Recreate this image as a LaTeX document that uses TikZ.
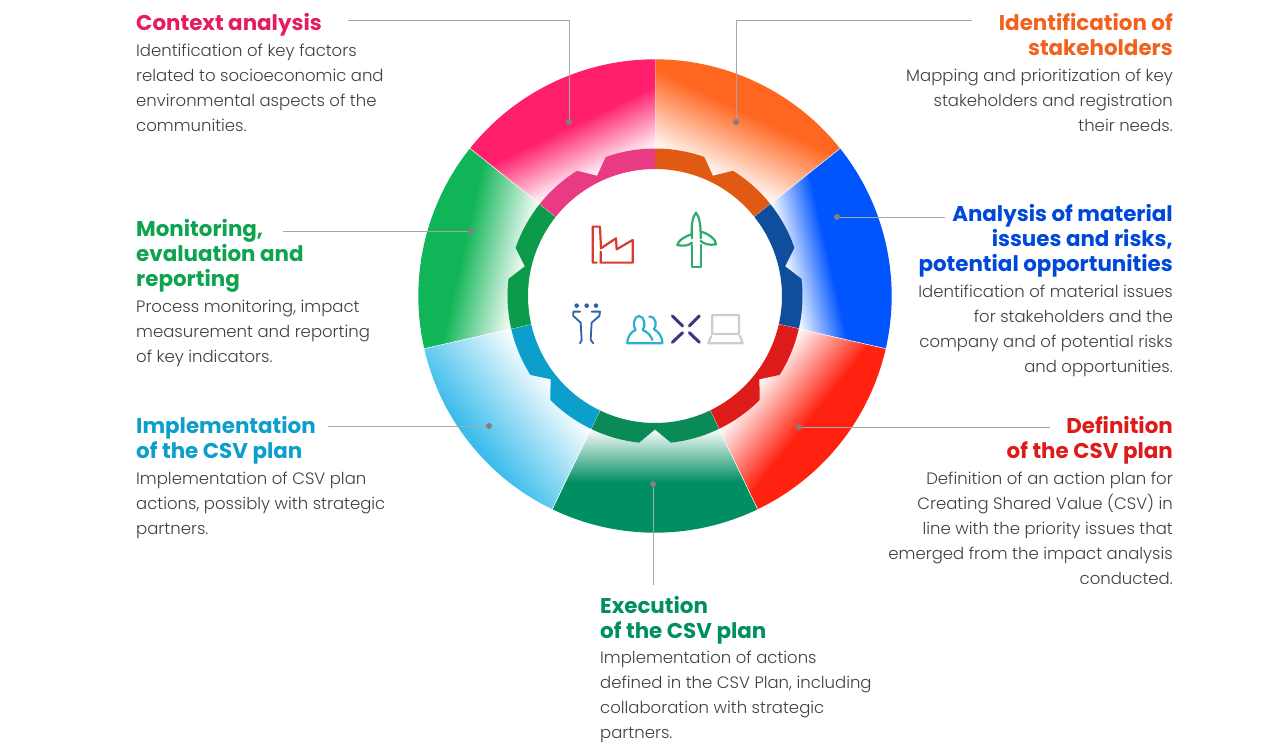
\documentclass[tikz,border=0pt]{standalone}
\usepackage{fontspec}
\usepackage{xcolor}
\newfontfamily\bodyfont[UprightFont=* Light,BoldFont=* Bold]{Poppins}
\definecolor{pinkc}{HTML}{FF1F6C}
\definecolor{orangec}{HTML}{FF6620}
\definecolor{bluec}{HTML}{0055FF}
\definecolor{redc}{HTML}{FF2210}
\definecolor{deepc}{HTML}{008F62}
\definecolor{skyc}{HTML}{3CBDEB}
\definecolor{greenc}{HTML}{10B557}
\definecolor{pinkg}{HTML}{E93B84}
\definecolor{orangeg}{HTML}{E05A14}
\definecolor{blueg}{HTML}{0F4E9C}
\definecolor{redg}{HTML}{DE1B1B}
\definecolor{deepg}{HTML}{0A8A56}
\definecolor{skyg}{HTML}{0D9FCB}
\definecolor{greeng}{HTML}{0C9A4B}
\definecolor{factoryc}{HTML}{D83A30}
\definecolor{turbinec}{HTML}{2EAB6B}
\definecolor{columnc}{HTML}{2F5FA5}
\definecolor{peoplec}{HTML}{2BB0D0}
\definecolor{crossc}{HTML}{43307F}
\begin{document}
\begin{tikzpicture}[x=1pt, y=1pt,
    leader/.style={draw=black!35, line width=0.9pt},
    dotmark/.style={circle, fill=black!50, inner sep=0pt, minimum size=6pt},
    headl/.style={anchor=base west, align=left, inner sep=0pt, font=\bodyfont\bfseries\fontsize{21.4}{25}\selectfont},
    headr/.style={anchor=base east, align=right, inner sep=0pt, font=\bodyfont\bfseries\fontsize{21.4}{25}\selectfont},
    bodyl/.style={anchor=base west, align=left, inner sep=0pt, text=black!75, font=\bodyfont\fontsize{16.5}{25}\selectfont},
    bodyr/.style={anchor=base east, align=right, inner sep=0pt, text=black!75, font=\bodyfont\fontsize{16.5}{25}\selectfont},
    icon/.style={line width=2.2pt, line join=round, line cap=round}]
    \useasboundingbox (0,0) rectangle (1280,752);
    % Ring sectors and gear
    \foreach \mid/\col/\gearcol/\rfull in {64.29/orangec/orangeg/205, 12.86/bluec/blueg/178, -38.57/redc/redg/198, -90/deepc/deepg/186, -141.43/skyc/skyg/232, -192.86/greenc/greeng/198, -244.29/pinkc/pinkg/190} {
        \begin{scope}[transform canvas={shift={(655,456)}, rotate=\mid}]
            \begin{scope}
                \clip (-25.71:125) -- (-25.71:236.7) arc[start angle=-25.71, end angle=25.71, radius=236.7] -- (25.71:125) arc[start angle=25.71, end angle=-25.71, radius=125] -- cycle;
                \shade[left color=white, right color=\col] (132,-240) rectangle (\rfull,240);
                \fill[\col] (\rfull-0.5,-240) rectangle (240,240);
            \end{scope}
            \draw[white, line width=0.5pt] (25.71:127) -- (25.71:236.7);
            % gear piece with one notch
            \fill[\gearcol] (-25.71:127) arc[start angle=-25.71, end angle=25.71, radius=127]
                -- (25.71:147.5) arc[start angle=25.71, end angle=6.2, radius=147.5]
                -- (0:133.5) -- (-6.2:147.5) arc[start angle=-6.2, end angle=-25.71, radius=147.5] -- cycle;
        \end{scope}
    }
    % Icons
    \begin{scope}[shift={(490,622)}, x=0.3333pt, y=-0.3333pt]
        \draw[icon, factoryc] (320,398) -- (308,398) -- (308,290) -- (330,290) -- (333,355) -- (378,325) -- (380,358) -- (428,330) -- (428,398) -- (332,398) -- (332,365);
        \draw[icon, turbinec] (606,345) -- (606,410) -- (632,410) -- (632,345);
        \draw[icon, turbinec] (606,325) .. controls (603,285) and (608,260) .. (618,248) .. controls (628,260) and (633,285) .. (632,325);
        \draw[icon, turbinec] (606,312) .. controls (585,320) and (565,330) .. (562,345) .. controls (585,350) and (598,345) .. (606,338);
        \draw[icon, turbinec] (632,305) .. controls (655,310) and (680,330) .. (678,343) .. controls (658,347) and (642,342) .. (632,333);
        \foreach \dotx in {260,290,318} \fill[columnc] (\dotx,527) circle (2.3pt);
        \draw[icon, line width=1.8pt, columnc] (270,545) -- (250,545) -- (250,558) -- (272,578) -- (275,630) -- (270,640);
        \draw[icon, line width=1.8pt, columnc] (305,545) -- (330,545) -- (328,558) -- (305,578) -- (302,630) -- (310,640);
        \draw[icon, peoplec] (447,558) .. controls (430,558) and (428,592) .. (437,600) .. controls (425,605) and (412,618) .. (412,640) -- (517,640) .. controls (517,618) and (505,605) .. (492,598) .. controls (502,585) and (498,560) .. (478,560);
        \draw[icon, peoplec] (447,558) .. controls (465,558) and (467,592) .. (458,600) .. controls (472,605) and (484,618) .. (487,630);
        \draw[icon, line width=3pt, crossc] (547,558) -- (578,588) (628,558) -- (598,588) (547,637) -- (578,608) (628,637) -- (598,608);
        \draw[icon, black!20] (667,612) -- (667,555) -- (747,555) -- (747,612) -- (672,612) (664,618) -- (655,640) -- (758,640) -- (750,618);
    \end{scope}
    % Context analysis
    \node[headl, text=pinkc!90!black] (contexthead) at (136,721) {Context analysis};
    \node[bodyl] (contexttext) at (136,620) {Identification of key factors\\related to socioeconomic and\\environmental aspects of the\\communities.};
    \node[dotmark] (contextdot) at (569,630) {};
    \coordinate (contextstart) at (348,732);
    \draw[leader] (contextstart) -| (contextdot);
    % Identification of stakeholders
    \node[headr, text=orangec!95!black] (stakehead) at (1173,696) {Identification of\\stakeholders};
    \node[bodyr] (staketext) at (1173,620) {Mapping and prioritization of key\\stakeholders and registration\\their needs.};
    \node[dotmark] (stakedot) at (736,630) {};
    \coordinate (stakestart) at (972,732);
    \draw[leader] (stakestart) -| (stakedot);
    % Analysis of material issues
    \node[headr, text=bluec!85!black] (issuehead) at (1173,480) {Analysis of material\\issues and risks,\\potential opportunities};
    \node[bodyr] (issuetext) at (1173,379) {Identification of material issues\\for stakeholders and the\\company and of potential risks\\and opportunities.};
    \node[dotmark] (issuedot) at (837,535) {};
    \coordinate (issuestart) at (945,535);
    \draw[leader] (issuestart) -- (issuedot);
    % Definition of the plan
    \node[headr, text=redg] (definehead) at (1173,293) {Definition\\of the CSV plan};
    \node[bodyr] (definetext) at (1173,167) {Definition of an action plan for\\Creating Shared Value (CSV) in\\line with the priority issues that\\emerged from the impact analysis\\conducted.};
    \node[dotmark] (definedot) at (799,325) {};
    \coordinate (definestart) at (1050,325);
    \draw[leader] (definestart) -- (definedot);
    % Execution of the plan
    \node[headl, text=deepc] (runhead) at (600,113) {Execution\\of the CSV plan};
    \node[bodyl] (runtext) at (600,13) {Implementation of actions\\defined in the CSV Plan, including\\collaboration with strategic\\partners.};
    \node[dotmark] (rundot) at (653,268) {};
    \coordinate (runstart) at (653,167);
    \draw[leader] (runstart) -- (rundot);
    % Implementation of the plan
    \node[headl, text=skyg] (planhead) at (136,293) {Implementation\\of the CSV plan};
    \node[bodyl] (plantext) at (136,217) {Implementation of CSV plan\\actions, possibly with strategic\\partners.};
    \node[dotmark] (plandot) at (489,326) {};
    \coordinate (planstart) at (328,326);
    \draw[leader] (planstart) -- (plandot);
    % Monitoring
    \node[headl, text=greenc!90!black] (monitorhead) at (136,465) {Monitoring,\\evaluation and\\reporting};
    \node[bodyl] (monitortext) at (136,389) {Process monitoring, impact\\measurement and reporting\\of key indicators.};
    \node[dotmark] (monitordot) at (471,521) {};
    \coordinate (monitorstart) at (283,521);
    \draw[leader] (monitorstart) -- (monitordot);
\end{tikzpicture}
\end{document}
